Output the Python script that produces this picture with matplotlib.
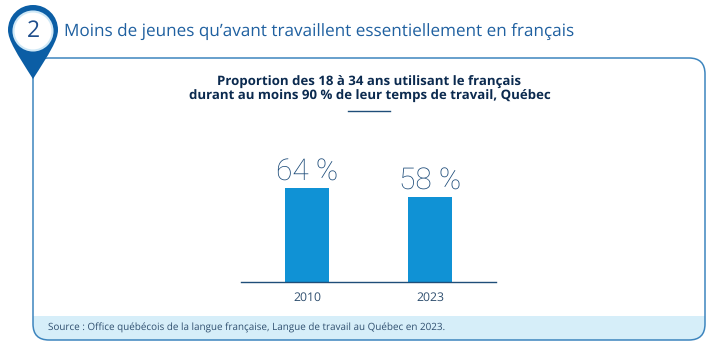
import matplotlib
matplotlib.use("Agg")
import matplotlib.pyplot as plt
from matplotlib.patches import FancyBboxPatch, Circle, Rectangle
from matplotlib.path import Path
from matplotlib.patches import PathPatch

plt.rcParams["text.hinting"] = "no_hinting"
plt.rcParams["text.hinting_factor"] = 8

categories = ["2010", "2023"]
values = [64, 58]
value_labels = ["64 %", "58 %"]
heading = "Moins de jeunes qu’avant travaillent essentiellement en français"
title_lines = "Proportion des 18 à 34 ans utilisant le français\ndurant au moins 90 % de leur temps de travail, Québec"
source = "Source : Office québécois de la langue française, Langue de travail au Québec en 2023."

W, H = 726, 353
fig = plt.figure(figsize=(W / 100, H / 100), dpi=100, facecolor="white")

# Decoration layer in pixel coordinates
bg = fig.add_axes([0, 0, 1, 1])
bg.set_xlim(0, W); bg.set_ylim(H, 0); bg.axis("off")

L, T, R, B, r = 33, 58, 705, 340, 16
clip = FancyBboxPatch((L, T), R - L, B - T, boxstyle=f"round,pad=0,rounding_size={r}",
                      fc="white", ec="none", zorder=1)
bg.add_patch(clip)
band = Rectangle((L, 316), R - L, B - 316, fc="#D6EEF9", ec="none", zorder=2)
bg.add_patch(band)
band.set_clip_path(clip)
bg.add_patch(FancyBboxPatch((L, T), R - L, B - T, boxstyle=f"round,pad=0,rounding_size={r}",
                            fc="none", ec="#3D85BE", lw=1.1, zorder=3))

# Map pin
cx, cy, pr = 33, 30, 25
verts = [(cx - pr, cy), (cx - pr, cy - 14), (cx - 14, cy - pr), (cx, cy - pr),
         (cx + 14, cy - pr), (cx + pr, cy - 14), (cx + pr, cy),
         (cx + pr, cy + 10), (cx + 16, cy + 24), (cx, 79),
         (cx - 16, cy + 24), (cx - pr, cy + 10), (cx - pr, cy), (cx - pr, cy)]
codes = [Path.MOVETO] + [Path.CURVE4] * 12 + [Path.CLOSEPOLY]
bg.add_patch(PathPatch(Path(verts, codes), fc="#0B5EA5", ec="none", zorder=4))
bg.add_patch(Circle((cx, cy + 1), 19.5, fc="white", ec="#CFE8F6", lw=1.5, zorder=5))
bg.text(cx, cy + 1, "2", ha="center", va="center", fontsize=16.5, color="#1F4E8C",
        family="Open Sans", zorder=6)

bg.text(64.5, 31, heading, ha="left", va="center", fontsize=12.3, color="#1F60A0",
        family="Open Sans", weight="medium")
bg.text(369.5, 89.5, title_lines, ha="center", va="center", fontsize=9.55, color="#0B2A4F",
        family="Open Sans", weight="bold", linespacing=1.12)
bg.plot([348, 390], [110.5, 110.5], color="#1F4E79", lw=1)
bg.text(48, 327.5, source, ha="left", va="center", fontsize=7.11, color="#2F4F6F",
        family="Open Sans", zorder=4)

# Bars
ax_l, ax_r, ax_b, ax_t = 241, 496, 282, 130
ax = fig.add_axes([ax_l / W, 1 - ax_b / H, (ax_r - ax_l) / W, (ax_b - ax_t) / H])
ax.patch.set_alpha(0)
xs = list(range(len(categories)))
ax.bar(xs, values, width=44 / 123, color="#1092D5")
ax.set_xlim(-(307 - ax_l) / 123, (ax_r - 307) / 123)
ax.set_ylim(0, (ax_b - ax_t) / 1.469)
for side in ("top", "left", "right"):
    ax.spines[side].set_visible(False)
ax.spines["bottom"].set_color("#1F4E79")
ax.spines["bottom"].set_linewidth(1.0)
ax.set_yticks([])
ax.set_xticks(xs, categories, family="Open Sans", fontsize=8.8, color="#2F4F6F")
ax.tick_params(axis="x", length=0, pad=7)
for x, v, s in zip(xs, values, value_labels):
    ax.annotate(s, (x, v), xytext=(0, 1.5), textcoords="offset points", ha="center", va="bottom",
                fontsize=21.5, color="#1B4A78", family="Roboto", weight="light")

fig.savefig("out.png", dpi=100)
